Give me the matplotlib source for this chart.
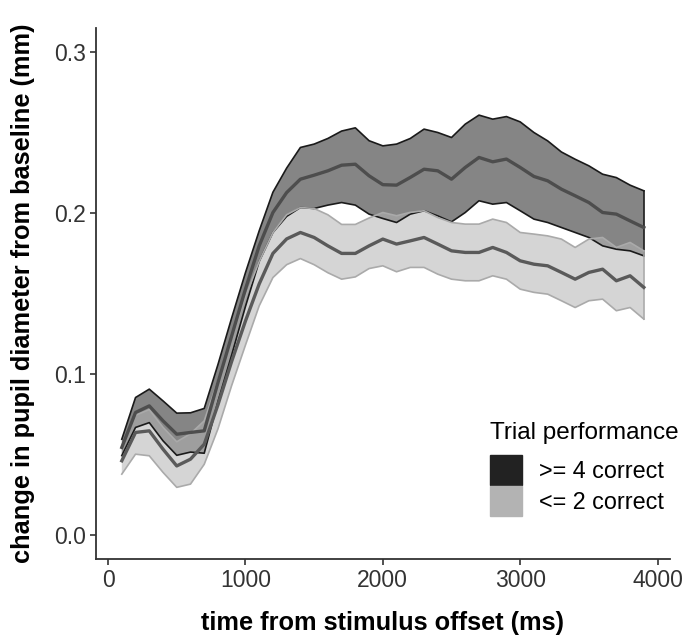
import numpy as np
import matplotlib
matplotlib.use("Agg")
import matplotlib.pyplot as plt
from matplotlib.patches import Patch

plt.rcParams['font.family'] = ['Liberation Sans', 'DejaVu Sans']

# time points (ms)
time_ms = list(range(100, 4000, 100))

# >= 4 correct : mean and ribbon bounds
hi_mean = [0.0545, 0.0762, 0.0803, 0.0710, 0.0627, 0.0638, 0.0648, 0.0948, 0.1238, 0.1528,
           0.1797, 0.2004, 0.2128, 0.2211, 0.2236, 0.2263, 0.2298, 0.2304, 0.2232, 0.2177,
           0.2174, 0.2222, 0.2273, 0.2263, 0.2211, 0.2284, 0.2346, 0.2319, 0.2336, 0.2284,
           0.2228, 0.2201, 0.2149, 0.2108, 0.2066, 0.2004, 0.1994, 0.1952, 0.1911]
hi_upper = [0.0596, 0.0855, 0.0907, 0.0834, 0.0758, 0.0760, 0.0787, 0.1060, 0.1350, 0.1630,
            0.1890, 0.2130, 0.2280, 0.2408, 0.2429, 0.2464, 0.2510, 0.2530, 0.2450, 0.2418,
            0.2429, 0.2464, 0.2522, 0.2501, 0.2470, 0.2553, 0.2609, 0.2584, 0.2600, 0.2567,
            0.2501, 0.2449, 0.2380, 0.2335, 0.2294, 0.2242, 0.2221, 0.2174, 0.2139]
hi_lower = [0.0494, 0.0669, 0.0699, 0.0586, 0.0496, 0.0516, 0.0509, 0.0830, 0.1120, 0.1420,
            0.1700, 0.1880, 0.1980, 0.2035, 0.2029, 0.2050, 0.2066, 0.2050, 0.1994, 0.1967,
            0.1942, 0.1994, 0.2015, 0.1983, 0.1946, 0.2004, 0.2077, 0.2056, 0.2066, 0.2015,
            0.1963, 0.1942, 0.1911, 0.1880, 0.1849, 0.1797, 0.1776, 0.1766, 0.1735]

# <= 2 correct : mean and ribbon bounds
lo_mean = [0.0462, 0.0638, 0.0648, 0.0534, 0.0430, 0.0472, 0.0565, 0.0810, 0.1080, 0.1330,
           0.1560, 0.1750, 0.1840, 0.1880, 0.1849, 0.1797, 0.1750, 0.1750, 0.1797, 0.1839,
           0.1808, 0.1828, 0.1849, 0.1808, 0.1766, 0.1756, 0.1756, 0.1787, 0.1756, 0.1704,
           0.1683, 0.1673, 0.1632, 0.1590, 0.1632, 0.1652, 0.1580, 0.1611, 0.1539]
lo_upper = [0.0540, 0.0745, 0.0780, 0.0670, 0.0580, 0.0630, 0.0710, 0.0960, 0.1230, 0.1480,
            0.1700, 0.1880, 0.1990, 0.2035, 0.2029, 0.1990, 0.1930, 0.1930, 0.1970, 0.2004,
            0.1984, 0.2005, 0.2015, 0.1973, 0.1942, 0.1932, 0.1932, 0.1963, 0.1942, 0.1880,
            0.1870, 0.1859, 0.1839, 0.1787, 0.1839, 0.1849, 0.1787, 0.1818, 0.1766]
lo_lower = [0.0379, 0.0503, 0.0493, 0.0390, 0.0297, 0.0317, 0.0440, 0.0660, 0.0930, 0.1180,
            0.1424, 0.1600, 0.1680, 0.1718, 0.1680, 0.1630, 0.1590, 0.1604, 0.1656, 0.1673,
            0.1636, 0.1663, 0.1663, 0.1621, 0.1590, 0.1580, 0.1580, 0.1611, 0.1590, 0.1528,
            0.1508, 0.1497, 0.1456, 0.1414, 0.1456, 0.1466, 0.1394, 0.1414, 0.1342]

group_labels = [">= 4 correct", "<= 2 correct"]

fig = plt.figure(figsize=(6.85, 6.44), dpi=100)
ax = fig.add_axes([0.1397, 0.1315, 0.8383, 0.825])

# ribbons
ax.fill_between(time_ms, hi_lower, hi_upper, facecolor='#222222', alpha=0.55, linewidth=0)
ax.plot(time_ms, hi_upper, color='#1a1a1a', lw=1.2)
ax.plot(time_ms, hi_lower, color='#1a1a1a', lw=1.2)
ax.plot([time_ms[-1], time_ms[-1]], [hi_lower[-1], hi_upper[-1]], color='#1a1a1a', lw=1.2)

ax.fill_between(time_ms, lo_lower, lo_upper, facecolor='#b3b3b3', alpha=0.55, linewidth=0)
ax.plot(time_ms, lo_upper, color='#aaaaaa', lw=1.2)
ax.plot(time_ms, lo_lower, color='#aaaaaa', lw=1.2)
ax.plot([time_ms[-1], time_ms[-1]], [lo_lower[-1], lo_upper[-1]], color='#aaaaaa', lw=1.2)

# mean lines
ax.plot(time_ms, hi_mean, color='#4d4d4d', lw=2.4)
ax.plot(time_ms, lo_mean, color='#5a5a5a', lw=2.4)

ax.set_xlim(-90, 4090)
ax.set_ylim(-0.015, 0.315)
ax.set_xticks([0, 1000, 2000, 3000, 4000])
ax.set_yticks([0.0, 0.1, 0.2, 0.3])
ax.set_yticklabels(['0.0', '0.1', '0.2', '0.3'])

for side in ['top', 'right']:
    ax.spines[side].set_visible(False)
for side in ['left', 'bottom']:
    ax.spines[side].set_color('#333333')
    ax.spines[side].set_linewidth(1.3)
ax.tick_params(axis='both', colors='#333333', labelcolor='#333333', labelsize=16.5,
               length=4, width=1.2, pad=3)

ax.set_xlabel('time from stimulus offset (ms)', fontsize=18.3, fontweight='bold', labelpad=14)
ax.set_ylabel('change in pupil diameter from baseline (mm)', fontsize=18.3, fontweight='bold', labelpad=14)

handles = [Patch(facecolor='#222222', edgecolor='#222222'),
           Patch(facecolor='#b3b3b3', edgecolor='#b3b3b3')]
leg = ax.legend(handles, group_labels, title='Trial performance', loc='upper left',
                bbox_to_anchor=(0.687, 0.258), frameon=False, fontsize=16.8,
                title_fontsize=17.5, handlelength=1.35, handleheight=1.6,
                labelspacing=0.05, handletextpad=0.75, borderaxespad=0,
                borderpad=0)
leg._legend_box.align = 'left'
leg._legend_box.sep = 8

fig.savefig('out.png', dpi=100)
